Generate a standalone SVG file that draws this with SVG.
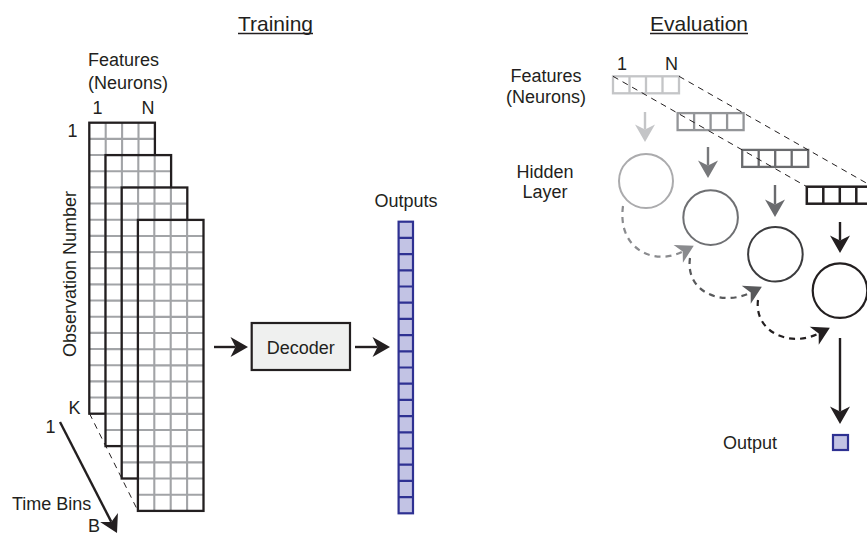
<svg xmlns="http://www.w3.org/2000/svg" xmlns:xlink="http://www.w3.org/1999/xlink" width="867" height="536" viewBox="0 0 867 536">
<style>
text{font-family:"Liberation Sans",Arial,sans-serif;fill:#231f20;font-size:18px}
.title{font-size:21px}
.mid{text-anchor:middle}
.ol{fill:none;stroke:#231f20;stroke-width:2.3}
.gl{fill:none;stroke:#a2a4a7;stroke-width:2.1}
.ul{stroke:#231f20;stroke-width:1.3}
.dash{fill:none;stroke:#231f20;stroke-width:1;stroke-dasharray:6 5}
.ar{fill:none;stroke-width:2.4}
.cd{fill:none;stroke-width:2.2;stroke-dasharray:6 5}
.out{fill:#c2c3e4;stroke:#2e3192;stroke-width:2.2}
</style>
<defs>
<g id="grid">
<rect x="0" y="0" width="65.6" height="291" fill="#fff"/>
<path class="gl" d="M16.4,0V291M32.8,0V291M49.2,0V291M0,16.17h65.6M0,32.33h65.6M0,48.5h65.6M0,64.67h65.6M0,80.83h65.6M0,97h65.6M0,113.17h65.6M0,129.33h65.6M0,145.5h65.6M0,161.67h65.6M0,177.83h65.6M0,194h65.6M0,210.17h65.6M0,226.33h65.6M0,242.5h65.6M0,258.67h65.6M0,274.83h65.6"/>
<rect class="ol" x="0" y="0" width="65.6" height="291"/>
</g>
<marker id="ah-k" viewBox="-18 -10 18 20" refX="-12.5" refY="0" markerWidth="18" markerHeight="20" markerUnits="userSpaceOnUse" orient="auto" overflow="visible"><path d="M0,0 L-17.5,-10 L-12.5,0 L-17.5,10 Z" fill="#231f20"/></marker>
<marker id="ah-1" viewBox="-18 -10 18 20" refX="-12.5" refY="0" markerWidth="18" markerHeight="20" markerUnits="userSpaceOnUse" orient="auto" overflow="visible"><path d="M0,0 L-17.5,-10 L-12.5,0 L-17.5,10 Z" fill="#c4c5c7"/></marker>
<marker id="ah-2" viewBox="-18 -10 18 20" refX="-12.5" refY="0" markerWidth="18" markerHeight="20" markerUnits="userSpaceOnUse" orient="auto" overflow="visible"><path d="M0,0 L-17.5,-10 L-12.5,0 L-17.5,10 Z" fill="#77787b"/></marker>
<marker id="ah-3" viewBox="-18 -10 18 20" refX="-12.5" refY="0" markerWidth="18" markerHeight="20" markerUnits="userSpaceOnUse" orient="auto" overflow="visible"><path d="M0,0 L-17.5,-10 L-12.5,0 L-17.5,10 Z" fill="#6a6b6e"/></marker>
<marker id="ah-a" viewBox="-18 -10 18 20" refX="-12.5" refY="0" markerWidth="18" markerHeight="20" markerUnits="userSpaceOnUse" orient="auto" overflow="visible"><path d="M0,0 L-17.5,-10 L-12.5,0 L-17.5,10 Z" fill="#8a8b8e"/></marker>
<marker id="ah-b" viewBox="-18 -10 18 20" refX="-12.5" refY="0" markerWidth="18" markerHeight="20" markerUnits="userSpaceOnUse" orient="auto" overflow="visible"><path d="M0,0 L-17.5,-10 L-12.5,0 L-17.5,10 Z" fill="#58595b"/></marker>
</defs>
<rect width="867" height="536" fill="#fff"/>

<!-- Titles -->
<g id="title-training">
<text class="title mid" x="275.5" y="30.5">Training</text>
<line class="ul" x1="238" y1="33.5" x2="313" y2="33.5"/>
</g>
<g id="title-evaluation">
<text class="title mid" x="699" y="30.5">Evaluation</text>
<line class="ul" x1="650" y1="33.5" x2="748" y2="33.5"/>
</g>

<!-- Training: feature grids -->
<g id="train-labels">
<text x="88" y="65.5">Features</text>
<text x="88" y="88.5">(Neurons)</text>
<text class="mid" x="97.5" y="114">1</text>
<text class="mid" x="148" y="114">N</text>
<text class="mid" x="72.5" y="137">1</text>
<text class="mid" x="74.5" y="413.5">K</text>
<text class="mid" x="50.5" y="433">1</text>
<text x="12" y="510">Time Bins</text>
<text class="mid" x="94" y="531.5">B</text>
<text class="mid" x="0" y="0" font-size="19" transform="translate(75.5,274) rotate(-90)">Observation Number</text>
</g>
<g id="grid-1"><use xlink:href="#grid" x="89.3" y="122.7"/></g>
<g id="grid-2"><use xlink:href="#grid" x="105.5" y="155.1"/></g>
<g id="grid-3"><use xlink:href="#grid" x="121.7" y="187.5"/></g>
<g id="grid-4"><use xlink:href="#grid" x="137.9" y="219.9"/></g>

<g id="decoder">
<rect x="251.7" y="323" width="98.3" height="47" fill="#eff0ef" stroke="#231f20" stroke-width="2.2"/>
<text class="mid" x="300.8" y="353.5">Decoder</text>
</g>

<g id="outputs">
<text class="mid" x="406" y="206.7">Outputs</text>
<rect class="out" x="398.6" y="221.7" width="14.4" height="291.6"/>
<path fill="none" stroke="#2e3192" stroke-width="2.2" d="M398.6,237.9h14.4M398.6,254.1h14.4M398.6,270.3h14.4M398.6,286.5h14.4M398.6,302.7h14.4M398.6,318.9h14.4M398.6,335.1h14.4M398.6,351.3h14.4M398.6,367.5h14.4M398.6,383.7h14.4M398.6,399.9h14.4M398.6,416.1h14.4M398.6,432.3h14.4M398.6,448.5h14.4M398.6,464.7h14.4M398.6,480.9h14.4M398.6,497.1h14.4"/>
</g>

<!-- Evaluation -->
<g id="eval-labels">
<text class="mid" x="546" y="82">Features</text>
<text class="mid" x="546" y="103.3">(Neurons)</text>
<text class="mid" x="622" y="70">1</text>
<text class="mid" x="671.5" y="70">N</text>
<text class="mid" x="545" y="177.5">Hidden</text>
<text class="mid" x="545" y="198.3">Layer</text>
<text x="723" y="449">Output</text>
</g>

<g id="feat-row-1" fill="none" stroke="#c4c5c7" stroke-width="2.3">
<rect x="613" y="76.3" width="66" height="17"/>
<path d="M629.5,76.3v17M646,76.3v17M662.5,76.3v17"/>
</g>
<g id="feat-row-2" fill="none" stroke="#939598" stroke-width="2.3">
<rect x="677.6" y="113.1" width="66" height="17"/>
<path d="M694.1,113.1v17M710.6,113.1v17M727.1,113.1v17"/>
</g>
<g id="feat-row-3" fill="none" stroke="#6a6b6e" stroke-width="2.3">
<rect x="742.2" y="149.9" width="66" height="17"/>
<path d="M758.7,149.9v17M775.2,149.9v17M791.7,149.9v17"/>
</g>
<g id="feat-row-4" fill="none" stroke="#231f20" stroke-width="2.5">
<rect x="806.8" y="186.7" width="66" height="17"/>
<path d="M823.3,186.7v17M839.8,186.7v17M856.3,186.7v17"/>
</g>

<g id="hidden-1"><circle cx="646" cy="181" r="27" fill="none" stroke="#ababad" stroke-width="2"/></g>
<g id="hidden-2"><circle cx="710.6" cy="217.6" r="27.3" fill="none" stroke="#6f7073" stroke-width="2"/></g>
<g id="hidden-3"><circle cx="775.4" cy="254.2" r="27.3" fill="none" stroke="#3c3c3e" stroke-width="2"/></g>
<g id="hidden-4"><circle cx="840" cy="290.6" r="27.3" fill="none" stroke="#231f20" stroke-width="2.2"/></g>
<g id="output-1"><rect class="out" x="833" y="435" width="15" height="15"/></g>

<g id="connectors">
<line class="dash" x1="89.5" y1="413.5" x2="138" y2="511"/>
<line class="dash" x1="613" y1="76.3" x2="806.8" y2="186.7"/>
<line class="dash" x1="679" y1="76.3" x2="872.8" y2="186.7"/>
<path class="ar" stroke="#231f20" d="M214,347H235.5" marker-end="url(#ah-k)"/>
<path class="ar" stroke="#231f20" d="M355,347H377.5" marker-end="url(#ah-k)"/>
<path class="ar" stroke="#231f20" d="M60,422L111.3,521.9" marker-end="url(#ah-k)"/>
<path class="ar" stroke="#c4c5c7" stroke-width="2" d="M645,112V129.5" marker-end="url(#ah-1)"/>
<path class="ar" stroke="#77787b" stroke-width="2" d="M708,147V165.5" marker-end="url(#ah-2)"/>
<path class="ar" stroke="#6a6b6e" stroke-width="2" d="M775,185V204.5" marker-end="url(#ah-3)"/>
<path class="ar" stroke="#231f20" d="M840,222V240.5" marker-end="url(#ah-k)"/>
<path class="ar" stroke="#231f20" d="M840,338V411.5" marker-end="url(#ah-k)"/>
<path class="cd" stroke="#8a8b8e" d="M623,206C617,250 655,266 682.7,251.5" marker-end="url(#ah-a)"/>
<path class="cd" stroke="#58595b" d="M690,258C685,292 722,307 750.7,292.5" marker-end="url(#ah-b)"/>
<path class="cd" stroke="#231f20" d="M758,300C754,332 790,348 818.7,333.5" marker-end="url(#ah-k)"/>
</g>
</svg>
